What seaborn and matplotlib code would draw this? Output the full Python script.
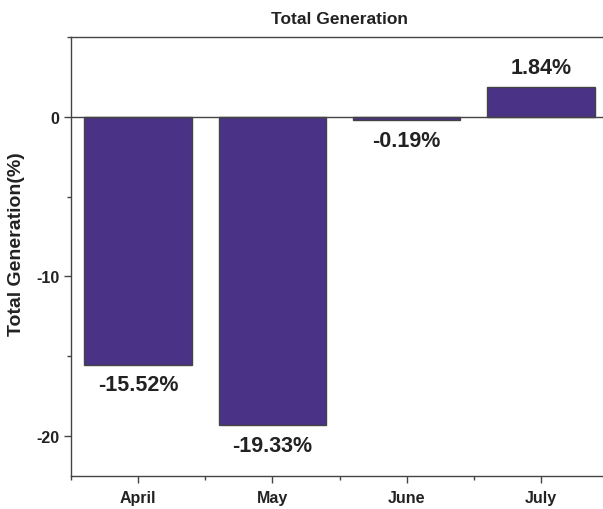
import numpy as np
import pandas as pd
import seaborn as sns
import matplotlib.pyplot as plt
from matplotlib.ticker import MultipleLocator

# дані з графіка
months = ["April", "May", "June", "July"]
change_pct = [-15.52, -19.33, -0.19, 1.84]
bar_labels = ["-15.52%", "-19.33%", "-0.19%", "1.84%"]

df = pd.DataFrame({"Month": months, "Change": change_pct})

sns.set_style("ticks")
plt.rcParams["font.family"] = ["Liberation Sans", "DejaVu Sans"]
plt.rcParams["font.weight"] = "bold"
plt.rcParams["axes.unicode_minus"] = False

fig = plt.figure(figsize=(6.03, 5.10), dpi=100)
ax = fig.add_axes([0.1177, 0.0647, 0.891, 0.8608])

bar_color = "#4a3287"
text_color = "#222222"
line_color = "#444444"

sns.barplot(data=df, x="Month", y="Change", color=bar_color, saturation=1,
            width=0.8, edgecolor=line_color, linewidth=1.0, ax=ax)

ax.axhline(0, color=line_color, lw=1.0, zorder=3)

ax.set_xlim(-0.5, 3.5)
ax.set_ylim(-22.5, 5)

# підписи над/під стовпчиками
for i, (v, lab) in enumerate(zip(change_pct, bar_labels)):
    if v >= 0:
        ax.annotate(lab, (i, v), xytext=(0, 7), textcoords="offset points",
                    ha="center", va="bottom", fontsize=15.5, fontweight="bold",
                    color=text_color)
    else:
        ax.annotate(lab, (i, v), xytext=(0, -7), textcoords="offset points",
                    ha="center", va="top", fontsize=15.5, fontweight="bold",
                    color=text_color)

ax.set_title("Total Generation", fontsize=12.5, fontweight="bold",
             color=text_color, pad=10)
ax.set_xlabel("")
ax.set_ylabel("Total Generation(%)", fontsize=14, fontweight="bold",
              color=text_color)
ax.yaxis.set_label_coords(-0.086, 0.53)

ax.yaxis.set_major_locator(MultipleLocator(10))
ax.yaxis.set_minor_locator(MultipleLocator(5))
ax.xaxis.set_minor_locator(MultipleLocator(1, offset=0.5))

ax.tick_params(axis="both", which="major", direction="out", length=5,
               width=1, color=line_color, labelsize=11.5, labelcolor=text_color)
ax.tick_params(axis="both", which="minor", direction="out", length=3,
               width=1, color=line_color)
ax.tick_params(axis="x", pad=5)
for lbl in ax.get_xticklabels() + ax.get_yticklabels():
    lbl.set_fontweight("bold")

for side in ["left", "bottom", "top"]:
    ax.spines[side].set_color(line_color)
    ax.spines[side].set_linewidth(1.0)
ax.spines["right"].set_visible(False)

fig.savefig("out.png", dpi=100)
